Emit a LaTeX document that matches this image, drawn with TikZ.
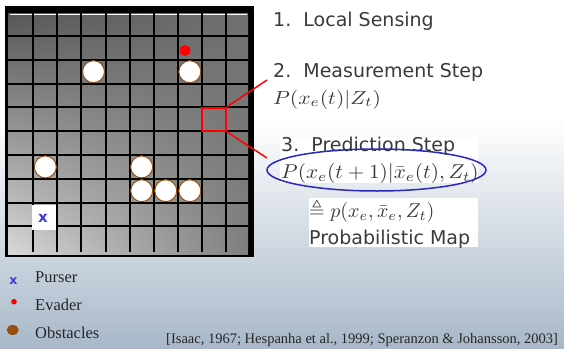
\documentclass[tikz,border=0pt]{standalone}
\usepackage{amssymb}
\usepackage{graphicx}
\usepackage{fontspec}
\setmainfont{Liberation Serif}
\newfontfamily\dvs{DejaVu Sans}
\usetikzlibrary{shapes.geometric,shadings}
\definecolor{bgbot}{HTML}{A8B8C9}
\definecolor{obst}{HTML}{9A4E0E}
\definecolor{txt}{HTML}{3A3A3A}
\definecolor{purser}{HTML}{3C3CD2}
\definecolor{ellblue}{HTML}{2828C0}
\newcommand\bigmath[3]{\scalebox{#1}[#2]{$#3$}}
\tikzset{
  gridline/.style={line width=2pt, black},
  obstacle/.style={circle, fill=white, draw=obst, line width=1pt, minimum size=22pt, inner sep=0pt},
  evader/.style={circle, fill=red, inner sep=0pt, minimum size=11pt},
  sanslabel/.style={font=\dvs\fontsize{19}{22}\selectfont, text=txt, inner sep=0pt, anchor=base west},
  mathlabel/.style={text=txt, inner sep=0pt, anchor=base west},
  legend/.style={font=\fontsize{16.5}{19}\selectfont, text=black!85, inner sep=0pt, anchor=base west},
  purserx/.style={font=\dvs\bfseries, text=purser, inner sep=0pt},
  redlink/.style={red, line width=1.5pt},
}
\begin{document}
\begin{tikzpicture}[x=1pt,y=-1pt]
\useasboundingbox (0,0) rectangle (564,348);
\fill[white] (0,0) rectangle (564,348);
\shade[top color=white, bottom color=bgbot] (0,118) rectangle (564,348);
% grid
\fill[black] (5,6) rectangle (254,257);
\shade[upper left=black!66, upper right=black!56, lower left=black!15, lower right=black!50] (8,13) rectangle (248,254);
\draw[white, line width=1.2pt] (10,14.5) -- (247,14.5);
\foreach \i in {0,...,8} {
  \draw[gridline] ({33.3+24.08*\i},13) -- ({33.3+24.08*\i},252);
  \draw[gridline] (8,{36+23.8*\i}) -- (248,{36+23.8*\i});
}
% obstacles
\foreach \c/\r [count=\k] in {3/2,7/2,1/6,5/6,5/7,6/7,7/7} {
  \node[obstacle] (ob\k) at ({33.3+24.08*(\c-0.5)},{36+23.8*(\r-0.5)}) {};
}
% evader
\node[evader] (ev) at (185,50.5) {};
% purser
\fill[white] (32,205) rectangle (56,230);
\node[purserx, font=\dvs\bfseries\fontsize{15}{15}\selectfont] (px) at (43,218.5) {x};
% red square and links
\node[draw=red, line width=2pt, minimum width=24pt, minimum height=23pt, inner sep=0pt] (rs) at (213.9,119.3) {};
\coordinate (m2) at (267,80);
\coordinate (m3) at (267,158);
\draw[redlink] (rs.north east) -- (m2);
\draw[redlink] (rs.south east) -- (m3);
% right-hand text
\node[sanslabel] (t1) at (273,26) {1.\ \ Local Sensing};
\node[sanslabel] (t2) at (273,77.5) {2.\ \ Measurement Step};
\node[mathlabel] (f2) at (273,104) {\bigmath{2.15}{1.9}{P(x_e(t)|Z_t)}};
\fill[white] (280,137) rectangle (478,183);
\fill[white] (309,198) rectangle (478,247);
\node[sanslabel] (t3) at (281,151.5) {3.\ \ Prediction Step};
\node[mathlabel] (f3) at (281,178.3) {\bigmath{2.12}{2}{P(x_e(t+1)|\bar{x}_e(t),Z_t)}};
\node[ellipse, draw=ellblue, line width=1.5pt, minimum width=219pt, minimum height=42pt, inner sep=0pt] (el) at (376.5,170) {};
\node[mathlabel] (f4) at (309,217) {\bigmath{2}{2}{\triangleq p(x_e,\bar{x}_e,Z_t)}};
\node[sanslabel] (t4) at (309,244.5) {Probabilistic Map};
% legend
\node[purserx, font=\dvs\bfseries\fontsize{12.5}{12.5}\selectfont] (lx) at (13.3,280.7) {x};
\node[evader, minimum size=5.6pt] (ld) at (14,301.7) {};
\node[ellipse, fill=obst, minimum width=12pt, minimum height=10pt, inner sep=0pt] (lo) at (12.7,330) {};
\node[legend] (lp) at (35,282.3) {Purser};
\node[legend] (le) at (35,310) {Evader};
\node[legend] (lob) at (35,338.3) {Obstacles};
\node[legend, font=\fontsize{14.5}{17}\selectfont] (cite) at (166,343) {[Isaac, 1967; Hespanha et al., 1999; Speranzon \& Johansson, 2003]};
\end{tikzpicture}
\end{document}
